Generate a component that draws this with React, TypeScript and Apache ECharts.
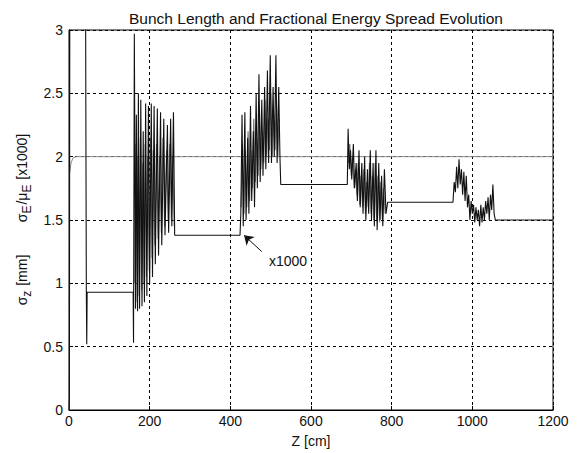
import React, { useEffect, useRef } from "react";
import * as echarts from "echarts";

const title = "Bunch Length and Fractional Energy Spread Evolution";
const xTicks = [0, 200, 400, 600, 800, 1000, 1200];
const yTicks = [0, 0.5, 1, 1.5, 2, 2.5, 3];

// sigma_z main trace (black)
const sigmaZ: [number, number][] = [
  [0, 0], [1, 0.1], [2, 3.4], [41, 3.4], [42, 2.07], [43, 0.93], [44, 0.52], [45, 0.93],
  [159, 0.93], [160, 0.53], [162, 2.97], [165, 0.8], [167, 2.33], [170, 0.78], [172, 2.5],
  [175, 0.8], [178, 2.45], [181, 0.82], [184, 2.2], [187, 0.85], [190, 2.42], [193, 0.9],
  [197, 2.4], [200, 1.0], [204, 2.42], [207, 1.05], [211, 2.4], [214, 1.15], [219, 2.38],
  [222, 1.22], [227, 2.35], [230, 1.3], [235, 2.3], [238, 1.38], [244, 2.25], [247, 1.4],
  [252, 2.3], [255, 1.45], [259, 2.35], [262, 1.38],
  [424, 1.38], [426, 1.55], [429, 2.33], [432, 1.45], [436, 2.35], [439, 1.5], [443, 2.15],
  [446, 1.55], [450, 2.4], [453, 1.65], [457, 2.2], [460, 1.6], [464, 2.5], [467, 1.75],
  [471, 2.65], [474, 1.8], [478, 2.45], [481, 1.85], [485, 2.55], [488, 1.9], [492, 2.68],
  [495, 1.95], [499, 2.8], [502, 1.95], [506, 2.55], [509, 2.0], [513, 2.8], [516, 1.95],
  [520, 2.55], [523, 2.0], [525, 1.78],
  [690, 1.78], [692, 2.22], [695, 1.9], [698, 2.05], [701, 1.82], [705, 2.1], [708, 1.75],
  [712, 1.95], [715, 1.65], [719, 2.05], [722, 1.6], [726, 1.95], [729, 1.55], [733, 2.0],
  [736, 1.5], [740, 1.9], [743, 1.55], [747, 2.05], [750, 1.5], [754, 1.95], [757, 1.45],
  [761, 2.05], [764, 1.42], [768, 1.95], [771, 1.5], [775, 1.85], [778, 1.45], [782, 1.9],
  [786, 1.55], [790, 1.64],
  [952, 1.64], [955, 1.8], [958, 1.72], [961, 1.92], [964, 1.75], [967, 1.98], [970, 1.78],
  [973, 1.9], [976, 1.7], [979, 1.88], [982, 1.65], [985, 1.85], [988, 1.6], [991, 1.7],
  [994, 1.5], [997, 1.65], [1000, 1.55], [1003, 1.62], [1006, 1.48], [1009, 1.6], [1012, 1.5],
  [1015, 1.58], [1018, 1.45], [1021, 1.62], [1024, 1.48], [1027, 1.6], [1030, 1.5], [1033, 1.65],
  [1036, 1.55], [1039, 1.68], [1042, 1.5], [1045, 1.7], [1048, 1.58], [1051, 1.78], [1054, 1.55],
  [1057, 1.5], [1200, 1.5],
];

// secondary oscillating trace (gray)
const sigmaZGray: [number, number | null][] = [
  [163, 1.0], [166, 2.1], [169, 0.85], [171, 2.0], [174, 0.9], [177, 2.15], [180, 0.95],
  [183, 1.95], [186, 1.0], [189, 2.1], [192, 1.05], [195, 2.0], [199, 1.1], [202, 2.15],
  [206, 1.2], [209, 2.05], [213, 1.3], [217, 2.1], [221, 1.35], [225, 2.0], [229, 1.4],
  [233, 2.15], [237, 1.45], [242, 2.05], [246, 1.5], [250, 2.1], [254, 1.5], [257, 2.0],
  [261, 1.45], [262, null],
  [427, 1.6], [430, 2.1], [434, 1.55], [437, 2.05], [441, 1.6], [444, 2.2], [448, 1.65],
  [451, 2.05], [455, 1.75], [458, 2.3], [462, 1.8], [465, 2.15], [469, 1.85], [472, 2.4],
  [476, 1.9], [479, 2.2], [483, 1.95], [486, 2.45], [490, 2.0], [493, 2.3], [497, 2.05],
  [500, 2.5], [504, 2.0], [507, 2.35], [511, 2.05], [514, 2.45], [518, 2.0], [521, 2.3],
  [522, null],
  [693, 1.95], [696, 2.1], [700, 1.85], [703, 2.0], [707, 1.75], [710, 1.9], [714, 1.7],
  [717, 1.95], [721, 1.62], [724, 1.85], [728, 1.6], [731, 1.9], [735, 1.55], [738, 1.8],
  [742, 1.6], [745, 1.95], [749, 1.55], [752, 1.85], [756, 1.5], [759, 1.95], [763, 1.5],
  [766, 1.85], [770, 1.48], [773, 1.8], [777, 1.5], [780, 1.75], [784, 1.55],
];

// energy spread (x1000), light gray
const sigmaE: [number, number][] = [
  [0, 0], [0.3, 1.83], [2, 1.88], [5, 1.95], [10, 1.99], [18, 2.0], [1200, 2.0],
];

const annotationText = "x1000";
const arrowFrom: [number, number] = [478, 1.25];
const arrowTo: [number, number] = [434, 1.38];
const annotationAt: [number, number] = [543, 1.18];

export default function App() {
  const ref = useRef<HTMLDivElement>(null);
  useEffect(() => {
    if (!ref.current) return;
    const chart = echarts.init(ref.current, null, { renderer: "svg" });
    const font = "Liberation Sans, Arial, sans-serif";
    const rich = {
      a: { fontSize: 14, fill: "#111", fontFamily: font },
      s: { fontSize: 12, fill: "#111", fontFamily: font, padding: [9, 1, 0, 0] },
    };
    chart.setOption({
      animation: false,
      backgroundColor: "#fff",
      textStyle: { fontFamily: font },
      title: {
        text: title,
        left: 311,
        textAlign: "center",
        top: 5,
        textStyle: { fontSize: 15.5, fontWeight: "normal", color: "#111", fontFamily: font },
      },
      grid: {
        left: 69, right: 31, top: 30, bottom: 41,
        show: true, borderColor: "#000", borderWidth: 1, backgroundColor: "#fff",
      },
      xAxis: {
        type: "value", min: 0, max: 1200, interval: 200,
        name: "Z [cm]", nameLocation: "middle", nameGap: 24,
        nameTextStyle: { fontSize: 14, color: "#111", fontFamily: font },
        axisLine: { show: true, lineStyle: { color: "#000" } },
        axisTick: { inside: true, length: 4, lineStyle: { color: "#000" } },
        axisLabel: { fontSize: 14, color: "#111", margin: 4, fontFamily: font,
          formatter: (v: number) => (xTicks.includes(v) ? String(v) : "") },
        splitLine: { show: true, lineStyle: { color: "#000", type: [3, 3], width: 1 } },
      },
      yAxis: {
        type: "value", min: 0, max: 3, interval: 0.5,
        axisLine: { show: true, lineStyle: { color: "#000" } },
        axisTick: { inside: true, length: 4, lineStyle: { color: "#000" } },
        axisLabel: { fontSize: 14, color: "#111", margin: 6, fontFamily: font,
          formatter: (v: number) => (yTicks.includes(v) ? String(v) : "") },
        splitLine: { show: true, lineStyle: { color: "#000", type: [3, 3], width: 1 } },
      },
      graphic: [
        {
          type: "text", x: 22, y: 178, rotation: Math.PI / 2,
          style: {
            text: "{a|σ}{s|E}{a|/μ}{s|E}{a| [x1000]}",
            align: "center", verticalAlign: "middle",
            rich,
          },
        },
        {
          type: "text", x: 22, y: 280, rotation: Math.PI / 2,
          style: {
            text: "{a|σ}{s|z}{a| [mm]}",
            align: "center", verticalAlign: "middle",
            rich,
          },
        },
      ],
      series: [
        {
          type: "line", data: sigmaE, showSymbol: false, symbol: "none",
          lineStyle: { color: "#8a8a8a", width: 1 }, z: 3,
        },
        {
          type: "line", data: sigmaZGray, showSymbol: false, symbol: "none", connectNulls: false,
          lineStyle: { color: "#7a7a7a", width: 1.2 }, z: 4,
        },
        {
          type: "line", data: sigmaZ, showSymbol: false, symbol: "none",
          lineStyle: { color: "#111", width: 1.1 }, z: 5,
          markLine: {
            silent: true, symbol: ["none", "arrow"], symbolSize: 9,
            lineStyle: { color: "#111", type: "solid", width: 1 },
            label: { show: false },
            data: [[{ coord: arrowFrom }, { coord: arrowTo }]],
          },
          markPoint: {
            silent: true, symbol: "circle", symbolSize: 0,
            label: { show: true, formatter: annotationText, color: "#111", fontSize: 14, fontFamily: font },
            data: [{ coord: annotationAt }],
          },
        },
      ],
    });
    return () => chart.dispose();
  }, []);
  return <div ref={ref} style={{ position: "fixed", left: 0, top: 0, width: 584, height: 453 }} />;
}
